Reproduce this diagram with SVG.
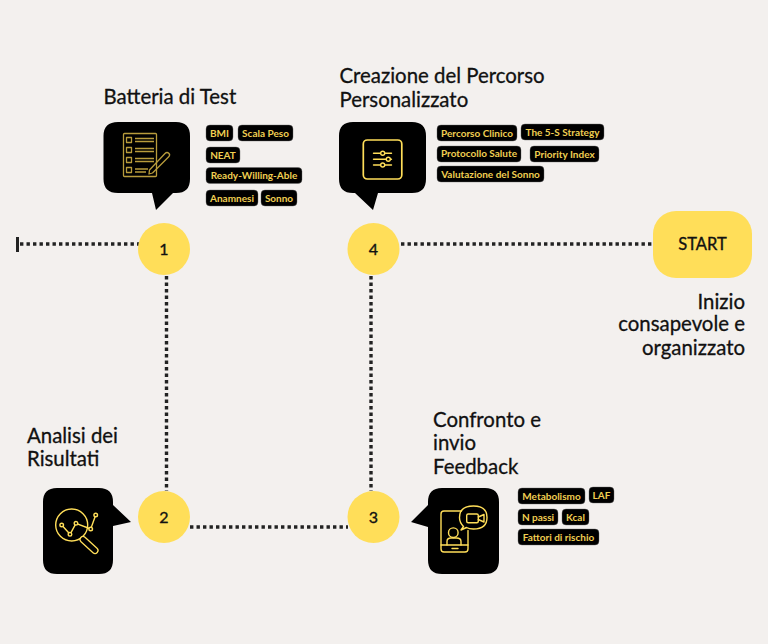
<svg xmlns="http://www.w3.org/2000/svg" width="768" height="644" viewBox="0 0 768 644">
<style>
.bg{fill:#f3f0ee}
.dot{fill:none;stroke:#222;stroke-width:3.4;stroke-dasharray:3.4 3.1}
.bub{fill:#000}
.y{fill:#ffde59}
.ic{fill:none;stroke:#ffde59;stroke-width:1.4;stroke-linecap:round;stroke-linejoin:round}
.icd{fill:none;stroke:#b89c3c;stroke-width:1.300;stroke-linejoin:round}
.t{font-family:Lato,"Open Sans",sans-serif;font-size:20.4px;fill:#111;stroke:#111;stroke-width:.3}
.n{font-family:Lato,sans-serif;font-size:16px;fill:#111;stroke:#111;stroke-width:.35;text-anchor:middle}
.tag rect{fill:#000;stroke:#666;stroke-width:.4}
.tag text{font-family:Lato,sans-serif;font-size:10px;font-weight:700;fill:#f0cf52;text-anchor:middle}
</style>
<rect class="bg" width="768" height="644"/>
<g id="connectors">
<path class="dot" d="M20 244H139"/>
<path d="M17.500 237V252" stroke="#222" stroke-width="3" fill="none"/>
<path class="dot" d="M401 244H653"/>
<path class="dot" d="M166.500 276V491"/>
<path class="dot" d="M371 276V491"/>
<path class="dot" d="M190 527H348"/>
</g>
<g id="node-start">
<rect class="y" x="653" y="211" width="99" height="67" rx="23"/>
<text x="702.500" y="250" class="n" style="font-size:16.5px">START</text>
<text class="t" text-anchor="end" x="745" y="308.500">Inizio</text>
<text class="t" text-anchor="end" x="745" y="330.500">consapevole e</text>
<text class="t" text-anchor="end" x="745" y="354.500">organizzato</text>
</g>
<g id="node-1">
<circle class="y" cx="164" cy="249" r="26"/>
<text class="n" x="164" y="254.500">1</text>
<text class="t" x="103.500" y="104">Batteria di Test</text>
<path class="bub" d="M118 122H176Q190 122 190 136V179Q190 193 176 193H173L156 210L152 193H118Q103.500 193 103.500 179V136Q103.500 122 118 122Z"/>
<g class="icd">
<rect x="123.500" y="133.500" width="33" height="43" rx="1"/>
<rect x="126.500" y="137.500" width="5" height="5"/><rect x="126.500" y="147.500" width="5" height="5"/><rect x="126.500" y="157.500" width="5" height="5"/><rect x="126.500" y="167.500" width="5" height="5"/>
<path d="M135 138.500H154M135 141.500H154M135 148.500H154M135 151.500H154M135 158.500H154M135 161.500H154M135 169H148M135 172H146"/>
<path d="M149.500 170L165 153.500Q167 151.500 169 153.500Q170.500 155 168.500 157L152.500 173L149 174Z"/>
</g>
<g class="tag">
<rect x="206" y="125" width="27" height="16" rx="4"/><text x="219.500" y="136.500">BMI</text>
<rect x="238" y="125" width="55" height="16" rx="4"/><text x="265.500" y="136.500">Scala Peso</text>
<rect x="206" y="147" width="34" height="16" rx="4"/><text x="223" y="158.500">NEAT</text>
<rect x="206" y="167.500" width="96" height="16" rx="4"/><text x="254" y="179">Ready-Willing-Able</text>
<rect x="206" y="190" width="52" height="16" rx="4"/><text x="232" y="201.500">Anamnesi</text>
<rect x="261" y="190" width="36" height="16" rx="4"/><text x="279" y="201.500">Sonno</text>
</g>
</g>
<g id="node-4">
<circle class="y" cx="373.500" cy="249" r="26"/>
<text class="n" x="373.500" y="254.500">4</text>
<text class="t" x="339.500" y="83">Creazione del Percorso</text>
<text class="t" x="339.500" y="107">Personalizzato</text>
<path class="bub" d="M353 122H412Q426 122 426 136V179Q426 193 412 193H378L373 210L355 193H353Q339 193 339 179V136Q339 122 353 122Z"/>
<rect class="ic" style="stroke-width:1.700" x="363.300" y="140" width="38.500" height="39" rx="4"/>
<g class="ic">
<path d="M373.500 153.300H391.500M373.500 159.300H391.500M373.500 165H391.500"/>
<circle cx="382.700" cy="153.300" r="2" fill="#000"/><circle cx="388.300" cy="159.300" r="2" fill="#000"/><circle cx="382.700" cy="165" r="2" fill="#000"/>
</g>
<g class="tag">
<rect x="437" y="125" width="80" height="16" rx="4"/><text x="477" y="136.500">Percorso Clinico</text>
<rect x="521" y="124" width="83" height="16" rx="4"/><text x="562.500" y="135.500">The 5-S Strategy</text>
<rect x="437" y="146" width="84" height="16" rx="4"/><text x="479" y="157">Protocollo Salute</text>
<rect x="530" y="146" width="69" height="16" rx="4"/><text x="564.500" y="158">Priority Index</text>
<rect x="437" y="166" width="107" height="16" rx="4"/><text x="490.500" y="177.500">Valutazione del Sonno</text>
</g>
</g>
<g id="node-2">
<circle class="y" cx="164" cy="517" r="26"/>
<text class="n" x="164" y="522.500">2</text>
<text class="t" x="27" y="442.500">Analisi dei</text>
<text class="t" x="27" y="465.500">Risultati</text>
<path class="bub" d="M57 488H99Q113 488 113 502V505L131 522L113 526V560Q113 574 99 574H57Q43 574 43 560V502Q43 488 57 488Z"/>
<g class="ic">
<circle cx="71.700" cy="525" r="16"/>
<path d="M61.700 525L70 534.300L76 523.300L90.700 529L95.700 515"/>
<circle cx="61.700" cy="525" r="1.800" fill="#000"/><circle cx="70" cy="534.300" r="1.800" fill="#000"/><circle cx="76" cy="523.300" r="1.800" fill="#000"/><circle cx="90.700" cy="529" r="1.800" fill="#000"/><circle cx="95.700" cy="515" r="1.800" fill="#000"/>
</g>
<path d="M83 539.500L95 550.500" stroke="#ffde59" stroke-width="7.200" stroke-linecap="round" fill="none"/>
<path d="M83 539.500L95 550.500" stroke="#000" stroke-width="4.600" stroke-linecap="round" fill="none"/>
</g>
<g id="node-3">
<circle class="y" cx="373.500" cy="517" r="26"/>
<text class="n" x="373.500" y="522.500">3</text>
<text class="t" x="433" y="426.500">Confronto e</text>
<text class="t" x="433" y="449.500">invio</text>
<text class="t" x="433" y="473.500">Feedback</text>
<path class="bub" d="M442 488H485Q499 488 499 502V560Q499 574 485 574H442Q428 574 428 560V527L411 522L428 505V502Q428 488 442 488Z"/>
<g class="ic">
<path d="M461.500 511H444Q441 511 441 514V549Q441 552 444 552H465Q468 552 468 549V530.500"/>
<path d="M441 545H468M452 548.500H458"/>
<circle cx="453.300" cy="532.700" r="4.800"/>
<path d="M447 545V541.500Q447 538 451 538H456.500Q461 538 461 541.500V545"/>
<path d="M461 530L463.500 526.500Q459.500 522.500 459.500 517.500Q459.500 506 473.500 506Q487 506 487 517.500Q487 529 473.500 529Q469 529 466.500 527.500Z"/>
<rect x="466.700" y="514" width="11.600" height="8.700" rx="1.500"/>
<path d="M478.300 517L484 514.500V522L478.300 519.500"/>
</g>
<g class="tag">
<rect x="518" y="488" width="67" height="16" rx="4"/><text x="551.500" y="500">Metabolismo</text>
<rect x="589" y="487" width="25" height="16" rx="4"/><text x="601.500" y="499">LAF</text>
<rect x="518" y="509" width="40" height="16" rx="4"/><text x="538" y="521">N passi</text>
<rect x="562" y="509" width="27" height="16" rx="4"/><text x="575.500" y="521">Kcal</text>
<rect x="518" y="529" width="81" height="16" rx="4"/><text x="558.500" y="541">Fattori di rischio</text>
</g>
</g>
</svg>
